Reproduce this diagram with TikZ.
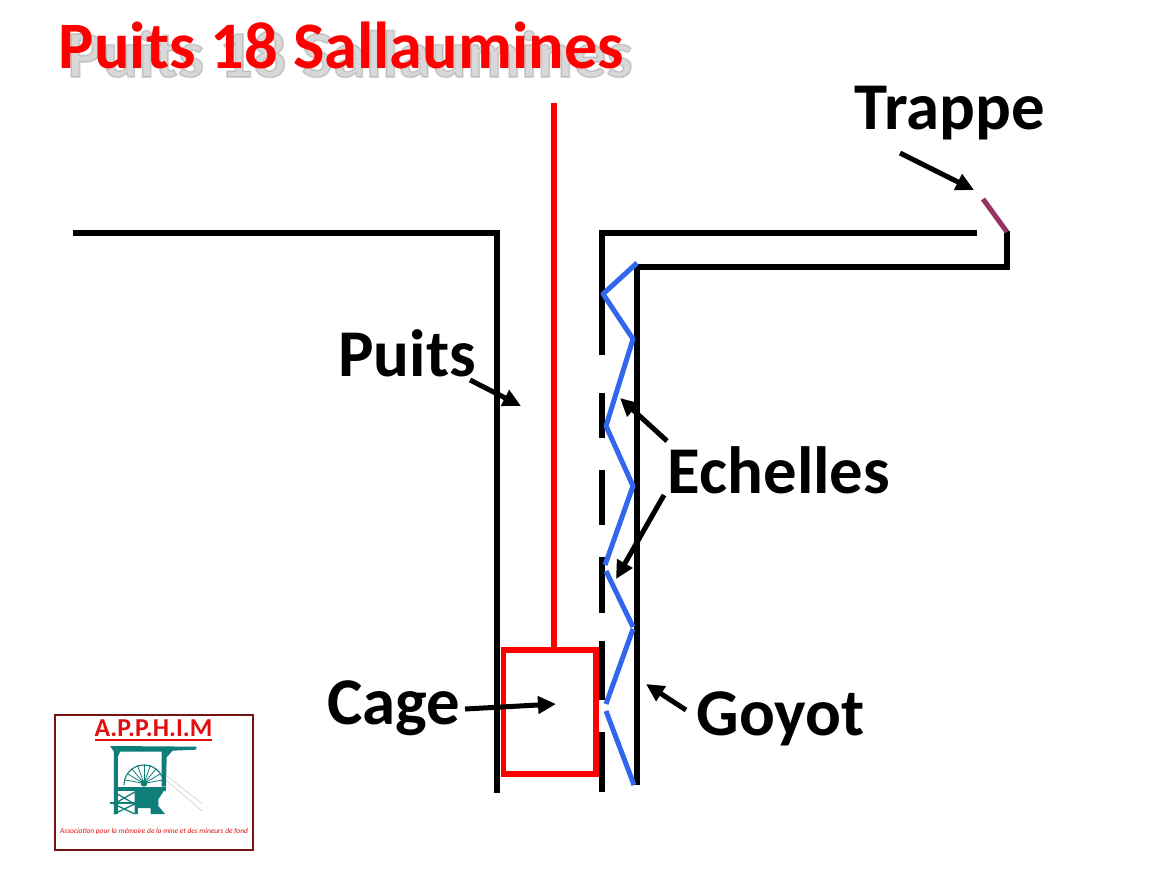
\documentclass[tikz,border=0pt]{standalone}
\usepackage{fontspec}
\setmainfont{Carlito}
\newfontfamily\shadowface[FakeBold=2.5]{Carlito}
\usetikzlibrary{arrows.meta}
\definecolor{logored}{HTML}{E01010}
\definecolor{logoteal}{HTML}{0F7D78}
\definecolor{logoframe}{HTML}{7A1414}
\definecolor{ladder}{HTML}{3366EE}
\definecolor{hatch}{HTML}{943463}
\tikzset{
  wall/.style={line width=5.5pt,black},
  ladderline/.style={line width=5pt,ladder},
  redline/.style={line width=6pt,red},
  pointer/.style={line width=5pt,black,-{Triangle[length=18pt,width=17pt]}},
  lbl/.style={font=\fontsize{66.8}{66}\selectfont\bfseries,inner sep=0pt,black,anchor=base},
  ttl/.style={font=\fontsize{66.4}{66}\selectfont\bfseries,inner sep=0pt,anchor=base},
}
\begin{document}
\begin{tikzpicture}[x=1pt,y=-1pt]
\useasboundingbox[fill=white] (0,0) rectangle (1153,894);
% title with its shadow
\node[ttl,text=black!50,opacity=.3,font=\fontsize{66.4}{66}\selectfont\shadowface\bfseries] (titleshadow) at (350,77) {Puits 18 Sallaumines};
\node[ttl,text=red] (title) at (341.5,68.5) {Puits 18 Sallaumines};
% walls
\coordinate (gl) at (73,233);
\coordinate (gc) at (497,233);
\coordinate (gb) at (497,793);
\draw[wall,line join=miter] (gl) -- (gc) -- (gb);
\coordinate (rt) at (977,233);
\coordinate (rc) at (602,233);
\coordinate (r1) at (602,355);
\draw[wall,line join=miter] (rt) -- (rc) -- (r1);
\foreach \a/\b in {393/438,470/525,557/613,641/700,732/792}{
  \draw[wall] (602,\a) -- (602,\b);
}
\coordinate (t1) at (1007,231);
\coordinate (t2) at (1007,267);
\coordinate (i1) at (637,267);
\coordinate (i2) at (637,785);
\draw[wall,line join=miter] (t1) -- (t2) -- (i1) -- (i2);
% hatch
\coordinate (h1) at (983,199);
\coordinate (h2) at (1007,232);
\draw[line width=5pt,hatch] (h1) -- (h2);
% cable and cage
\node[draw=red,line width=5.6pt,minimum width=92.6pt,minimum height=124pt,inner sep=0pt,anchor=north west] (cage) at (500.7,647) {};
\coordinate (ctop) at (554,103);
\draw[redline] (ctop) -- (cage.north -| ctop);
% ladders
\coordinate (b1) at (637,263);
\coordinate (b2) at (603,294);
\coordinate (b3) at (633,339);
\coordinate (b4) at (606,426);
\coordinate (b5) at (633,486);
\coordinate (b6) at (605,565);
\coordinate (b7) at (606,571);
\coordinate (b8) at (633,627);
\coordinate (b9) at (633,629);
\coordinate (b10) at (606,704);
\coordinate (b11) at (606,711);
\coordinate (b12) at (634,785);
\draw[ladderline,line join=round] (b1) -- (b2) -- (b3) -- (b4) -- (b5) -- (b6);
\draw[ladderline] (b7) -- (b8);
\draw[ladderline] (b9) -- (b10);
\draw[ladderline] (b11) -- (b12);
% labels
\node[lbl] (trappe) at (950,129.5) {Trappe};
\node[lbl] (puits) at (407,376.5) {Puits};
\node[lbl] (echelles) at (779,493.5) {Echelles};
\node[lbl] (cagelbl) at (394,724) {Cage};
\node[lbl] (goyot) at (780.5,735.5) {Goyot};
% pointers
\coordinate (pa) at (900,153); \coordinate (pb) at (974,190);
\draw[pointer] (pa) -- (pb);
\coordinate (pa) at (470,380); \coordinate (pb) at (521,406);
\draw[pointer] (pa) -- (pb);
\coordinate (pa) at (667,441); \coordinate (pb) at (620,398);
\draw[pointer] (pa) -- (pb);
\coordinate (pa) at (664,495); \coordinate (pb) at (616,579);
\draw[pointer] (pa) -- (pb);
\coordinate (pa) at (465,709); \coordinate (pb) at (556,704);
\draw[pointer] (pa) -- (pb);
\coordinate (pa) at (686,710); \coordinate (pb) at (646,684);
\draw[pointer] (pa) -- (pb);
% logo
\node[draw=logoframe,line width=2.3pt,minimum width=197.7pt,minimum height=135pt,inner sep=0pt,anchor=north west] (logo) at (53.9,713.9) {};
\node[inner sep=0pt,anchor=base,text=logored,font=\fontsize{25.8}{26}\selectfont\bfseries] (lt) at (153.5,736.5) {A.P.P.H.I.M};
\draw[logored,line width=1.5pt] (95,740) -- (212,740);
\node[inner sep=0pt,text=logored,font=\fontsize{7.4}{8}\selectfont\itshape] (ls) at (154,832) {Association pour la mémoire de la mine et des mineurs de fond};
\begin{scope}[shift={(40,700)},x=.3333pt,y=-.3333pt]
  \fill[logoteal] (210,138) -- (470,140) -- (468,149) -- (398,152) -- (380,172) -- (378,260) -- (365,260) -- (365,155) -- (240,155) -- (234,170) -- (234,342) -- (222,342) -- (222,155) -- cycle;
  \fill[logoteal] (222,260) rectangle (378,272);
  \fill[logoteal] (290,272) -- (372,272) -- (355,298) -- (355,318) -- (375,342) -- (332,342) -- (332,324) -- (294,324) -- (294,342) -- (284,342) -- (284,272) -- cycle;
  \draw[logoteal,line width=1.1pt] (252,255) arc[start angle=180,end angle=360,radius=60];
  \foreach \ang in {10,30,50,70,90,110,130,150,170}{
    \draw[logoteal,line width=.8pt] (312,250) -- ++({58*cos(\ang)},{-58*sin(\ang)});
  }
  \fill[logoteal] (312,250) circle (10);
  \draw[logoteal,line width=1.3pt] (222,276) -- (284,312) (284,276) -- (222,312) (222,312) -- (284,342) (284,312) -- (222,342);
  \draw[logoteal,line width=1.8pt] (210,308) -- (290,308);
  \draw[gray!45,line width=.5pt] (378,226) -- (485,310) (378,240) -- (485,332);
\end{scope}
\end{tikzpicture}
\end{document}
